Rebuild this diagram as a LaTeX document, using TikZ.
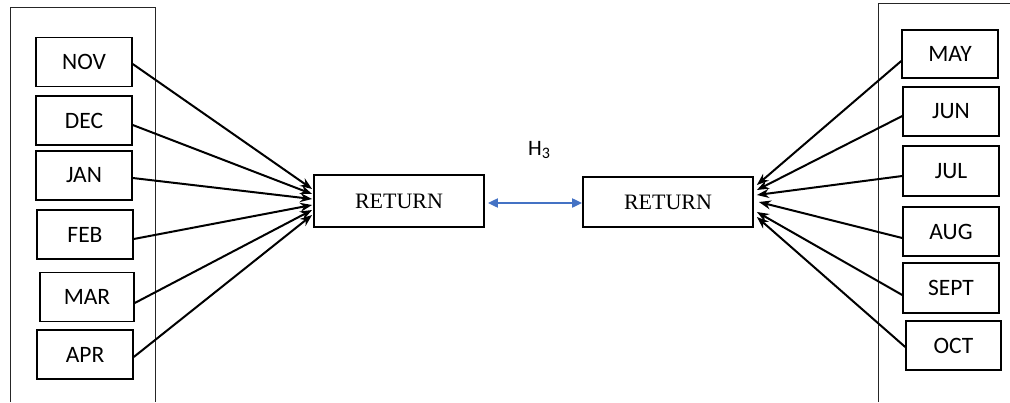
\documentclass[tikz,border=0pt]{standalone}
\usepackage{fontspec}
\setmainfont{Liberation Serif}
\newfontfamily\monthfont{Carlito}
\usetikzlibrary{arrows.meta,calc}
\definecolor{linkblue}{HTML}{4472C4}
\begin{document}
\begin{tikzpicture}[x=1pt,y=-1pt,
  month/.style={draw, line width=1.5pt, minimum width=96pt, minimum height=49pt,
    inner sep=0pt, font=\monthfont\fontsize{23.5}{27}\selectfont},
  retbox/.style={draw, line width=1.8pt, minimum width=170pt, minimum height=51pt,
    inner sep=0pt, font=\fontsize{22}{25}\selectfont},
  feed/.style={line width=2pt, -{Stealth[length=12pt,width=9pt]}},
  panel/.style={line width=1pt, draw=black!85},
  link/.style={draw=linkblue, line width=2pt,
    {Triangle[length=10pt,width=9pt]}-{Triangle[length=10pt,width=9pt]}}]
\useasboundingbox (0,0) rectangle (1010,402);

% open-bottomed side panels
\draw[panel] (10,402) -- (10,7) -- (155,7) -- (155,402);
\draw[panel] (878,402) -- (878,3) -- (1010,3);

% first half-year months
\node[month] (nov) at (84,62)    {NOV};
\node[month] (dec) at (84,120.5) {DEC};
\node[month] (jan) at (84,175.5) {JAN};
\node[month] (feb) at (85,234.5) {FEB};
\node[month, minimum width=94pt] (mar) at (87,297) {MAR};
\node[month] (apr) at (85,354.5) {APR};

% second half-year months
\node[month, minimum height=48pt] (may) at (950,54) {MAY};
\node[month] (jun) at (951,111.5) {JUN};
\node[month, minimum height=50pt] (jul) at (951,171) {JUL};
\node[month] (aug) at (951,231.5) {AUG};
\node[month, minimum height=50pt] (sept) at (951,288) {SEPT};
\node[month, minimum width=95pt] (oct) at (953.5,345.5) {OCT};

% return boxes
\node[retbox, minimum height=52pt] (retL) at (399,201) {\raisebox{-2pt}{RETURN}};
\node[retbox, minimum height=50pt] (retR) at (668,202) {\raisebox{-2pt}{RETURN}};

% H3 link
\node[font=\monthfont\fontsize{22}{26}\selectfont, inner sep=0pt] (h3) at (539,150)
  {H\raisebox{-3.5pt}{\fontsize{16}{16}\selectfont 3}};
\draw[link] ($(retL.east)+(3,2)$) -- ($(retR.west)+(0,1)$);

% left feeds
\draw[feed] ($(nov.east)+(0,2)$)   -- ($(retL.west)+(-1,-12)$);
\draw[feed] ($(dec.east)+(0,4.5)$) -- ($(retL.west)+(-1,-7)$);
\draw[feed] ($(jan.east)+(0,2.5)$) -- ($(retL.west)+(-1,-2)$);
\draw[feed] ($(feb.east)+(0,4.5)$) -- ($(retL.west)+(-1,4)$);
\draw[feed] ($(mar.east)+(0,6)$)   -- ($(retL.west)+(-1,9)$);
\draw[feed] ($(apr.east)+(0,2.5)$) -- ($(retL.west)+(-1,14)$);

% right feeds
\draw[feed] ($(may.west)+(0,7)$)   -- ($(retR.east)+(3,-17)$);
\draw[feed] ($(jun.west)+(0,4.5)$) -- ($(retR.east)+(3,-12)$);
\draw[feed] ($(jul.west)+(0,5)$)   -- ($(retR.east)+(3,-7)$);
\draw[feed] ($(aug.west)+(0,6.5)$) -- ($(retR.east)+(5,0)$);
\draw[feed] ($(sept.west)+(0,7)$)  -- ($(retR.east)+(3,10)$);
\draw[feed] ($(oct.west)+(0,1.5)$) -- ($(retR.east)+(3,15)$);
\end{tikzpicture}
\end{document}
